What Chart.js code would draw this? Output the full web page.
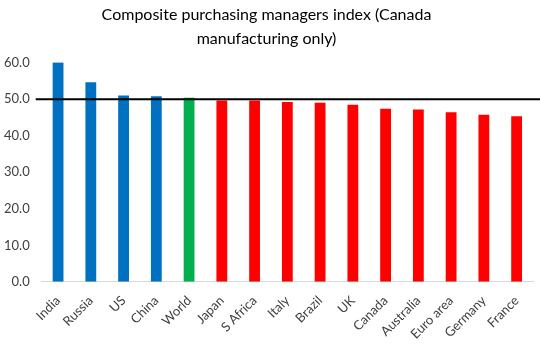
<!DOCTYPE html>
<html><head><meta charset="utf-8">
<script src="https://cdn.jsdelivr.net/npm/chart.js@4"></script>
<style>html,body{margin:0;padding:0;background:#fff}#wrap{width:540px;height:351px}</style>
</head><body><div id="wrap"><canvas id="c" width="540" height="351"></canvas></div>
<script>
const categories = ["India","Russia","US","China","World","Japan","S Africa","Italy","Brazil","UK","Canada","Australia","Euro area","Germany","France"];
const values = [60.1,54.6,51.0,50.8,50.4,49.6,49.6,49.2,49.0,48.5,47.4,47.2,46.4,45.7,45.3];
const barColors = ["#0070C0","#0070C0","#0070C0","#0070C0","#00B050","#FF0000","#FF0000","#FF0000","#FF0000","#FF0000","#FF0000","#FF0000","#FF0000","#FF0000","#FF0000"];
const yTicks = [0,10,20,30,40,50,60];
const refLevel = 50;

const refLine = {
  id:'refLine',
  afterDatasetsDraw(chart){
    const {ctx, chartArea, scales} = chart;
    const y = scales.y.getPixelForValue(refLevel);
    ctx.save();
    ctx.strokeStyle = '#000';
    ctx.lineWidth = 2;
    ctx.beginPath();
    ctx.moveTo(chartArea.left - 6, y);
    ctx.lineTo(chart.width, y);
    ctx.stroke();
    ctx.restore();
  }
};

new Chart(document.getElementById('c'), {
  type:'bar',
  data:{labels:categories, datasets:[{data:values, backgroundColor:barColors, barPercentage:0.55, categoryPercentage:0.6}]},
  options:{
    responsive:false, animation:false,
    layout:{padding:{left:0,right:7,top:0,bottom:6}},
    plugins:{
      legend:{display:false}, tooltip:{enabled:false},
      title:{display:true, text:["Composite purchasing managers index (Canada","manufacturing only)"], color:'#000', font:{family:'Lato', size:16, weight:'normal', lineHeight:1.55}, padding:{top:2,bottom:11}}
    },
    scales:{
      x:{grid:{display:false}, border:{color:'#d9d9d9'}, ticks:{color:'#404040', font:{family:'Lato', size:13}, maxRotation:45, minRotation:45, padding:3}},
      y:{min:0, max:60, afterBuildTicks:(s)=>{s.ticks = yTicks.map(v=>({value:v}));}, grid:{display:false}, border:{display:false}, ticks:{color:'#404040', font:{family:'Lato', size:13}, callback:(v)=>Number(v).toFixed(1), padding:4}}
    }
  },
  plugins:[refLine]
});
</script></body></html>
